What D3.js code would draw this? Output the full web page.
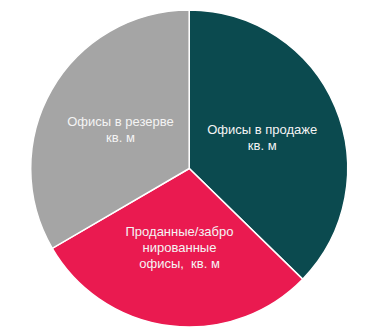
<!DOCTYPE html>
<html>
<head>
<meta charset="utf-8">
<script src="https://cdn.jsdelivr.net/npm/d3@7"></script>
<style>
  body { margin: 0; background: #fff; }
  svg { display: block; }
</style>
</head>
<body>
<svg id="chart" width="378" height="335"></svg>
<script>
// shares of the total area (%)
var labels = [
  ['Офисы в продаже', 'кв. м'],
  ['Проданные/забро', 'нированные', 'офисы,  кв. м'],
  ['Офисы в резерве', 'кв. м']
];
var values = [37.3, 29.3, 33.4];
var colors = ['#0b4a4f', '#ea1a50', '#a5a5a5'];

var width = 378, height = 335, radius = 158.5;
var cx = 189.2, cy = 168.5;

var svg = d3.select('#chart');
var g = svg.append('g').attr('transform', 'translate(' + cx + ',' + cy + ')');

var pie = d3.pie().sort(null).value(function(d) { return d; });
var arc = d3.arc().innerRadius(0).outerRadius(radius);

var arcs = pie(values);

g.selectAll('path').data(arcs).enter().append('path')
  .attr('d', arc)
  .style('fill', function(d, i) { return colors[i]; })
  .style('stroke', '#ffffff')
  .style('stroke-width', 1.5);

var lineH = 16;
var text = g.selectAll('text.lbl').data(arcs).enter().append('text')
  .attr('class', 'lbl')
  .attr('transform', function(d) { return 'translate(' + arc.centroid(d) + ')'; })
  .attr('text-anchor', 'middle')
  .style('font-family', 'Arial, "Liberation Sans", sans-serif')
  .style('font-size', '13px')
  .style('fill', '#f4f4f4');

text.each(function(d, i) {
  var lines = labels[i];
  var t = d3.select(this);
  var y0 = -(lines.length - 1) * lineH / 2;
  lines.forEach(function(s, k) {
    t.append('tspan')
      .attr('x', 0)
      .attr('y', y0 + k * lineH)
      .attr('dy', '0.35em')
      .style('white-space', 'pre')
      .text(s);
  });
});
</script>
</body>
</html>
